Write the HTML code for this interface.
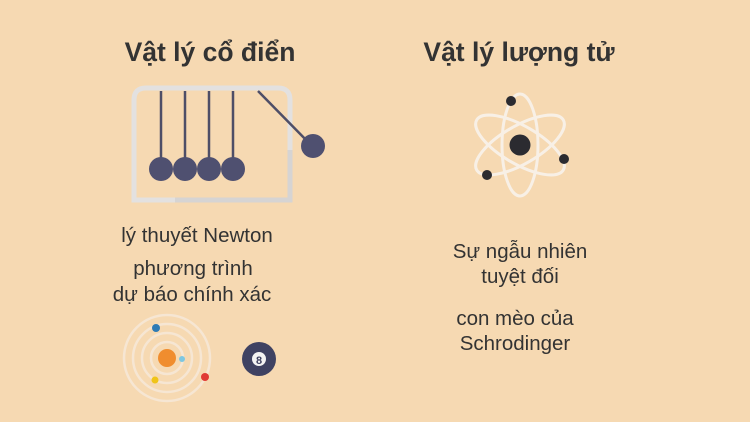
<!DOCTYPE html>
<html><head><meta charset="utf-8"><style>
html,body{margin:0;padding:0;background:#f6d9b2;}
svg{display:block;}
text{font-family:"Liberation Sans","DejaVu Sans",sans-serif;fill:#333;}
</style></head><body>
<svg width="750" height="422" viewBox="0 0 750 422">
<rect width="750" height="422" fill="#f6d9b2"/>
<text x="210" y="61" font-size="26.5" font-weight="bold" text-anchor="middle">Vật lý cổ điển</text>
<text x="519" y="61" font-size="26.5" font-weight="bold" text-anchor="middle">Vật lý lượng tử</text>
<!-- Newton's cradle -->
<path d="M134 200 V100 Q134 88 146 88 H278 Q290 88 290 100 V200 Z" fill="none" stroke="#e3e1e0" stroke-width="5"/>
<path d="M175 200 H290 V150" fill="none" stroke="#d6d4d3" stroke-width="5"/>
<g stroke="#4e4e67" stroke-width="2.5">
<line x1="161" y1="91" x2="161" y2="168"/><line x1="185" y1="91" x2="185" y2="168"/>
<line x1="209" y1="91" x2="209" y2="168"/><line x1="233" y1="91" x2="233" y2="168"/>
<line x1="258" y1="91" x2="312" y2="146"/>
</g>
<g fill="#4f5070">
<circle cx="161" cy="169" r="12"/><circle cx="185" cy="169" r="12"/>
<circle cx="209" cy="169" r="12"/><circle cx="233" cy="169" r="12"/>
<circle cx="313" cy="146" r="12"/>
</g>
<text x="197" y="242" font-size="20.5" text-anchor="middle">lý thuyết Newton</text>
<text x="193" y="275" font-size="20.5" text-anchor="middle">phương trình</text>
<text x="192" y="301" font-size="20.5" text-anchor="middle">dự báo chính xác</text>
<!-- solar system -->
<g fill="none" stroke="#f6e6d3" stroke-width="2.5">
<circle cx="167" cy="358" r="16"/><circle cx="167" cy="358" r="25"/>
<circle cx="167" cy="358" r="34"/><circle cx="167" cy="358" r="43"/>
</g>
<circle cx="167" cy="358" r="9" fill="#f08d2e"/>
<circle cx="182" cy="359" r="3" fill="#7ec7e0"/>
<circle cx="156" cy="328" r="4" fill="#2e7bb5"/>
<circle cx="155" cy="380" r="3.5" fill="#f0c419"/>
<circle cx="205" cy="377" r="4" fill="#e03a35"/>
<circle cx="259" cy="359" r="17" fill="#3f4262"/>
<circle cx="259" cy="359" r="7" fill="#f3f3f3"/>
<text x="259" y="364" font-size="11" font-weight="bold" text-anchor="middle" style="fill:#3f4262">8</text>
<!-- atom -->
<g fill="none" stroke="#f8f0e6" stroke-width="3">
<ellipse cx="520" cy="145" rx="50" ry="19" transform="rotate(30 520 145)"/>
<ellipse cx="520" cy="145" rx="50" ry="19" transform="rotate(-30 520 145)"/>
<ellipse cx="520" cy="145" rx="18" ry="51"/>
</g>
<g fill="#2b2b30">
<circle cx="520" cy="145" r="10.5"/>
<circle cx="511" cy="101" r="5"/><circle cx="564" cy="159" r="5"/><circle cx="487" cy="175" r="5"/>
</g>
<text x="520" y="258" font-size="20.5" text-anchor="middle">Sự ngẫu nhiên</text>
<text x="520" y="283" font-size="20.5" text-anchor="middle">tuyệt đối</text>
<text x="515" y="325" font-size="20.5" text-anchor="middle">con mèo của</text>
<text x="515" y="350" font-size="20.5" text-anchor="middle">Schrodinger</text>
</svg>
</body></html>
